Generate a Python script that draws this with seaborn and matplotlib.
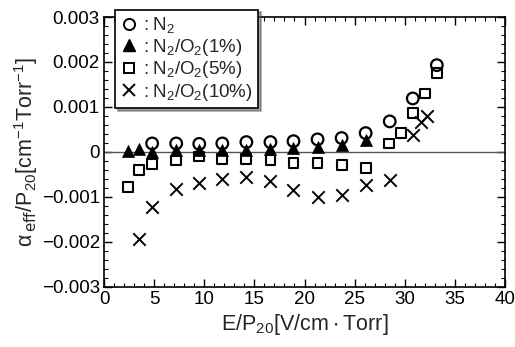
import matplotlib
matplotlib.use("Agg")
import matplotlib.pyplot as plt
import seaborn as sns
import pandas as pd
from matplotlib.ticker import MultipleLocator, FuncFormatter
from matplotlib.lines import Line2D

sns.set_theme(style="ticks")
plt.rcParams['font.family'] = ['Liberation Sans', 'Noto Sans CJK JP', 'DejaVu Sans']
plt.rcParams['mathtext.default'] = 'regular'

# Data
n2_x = [4.8, 7.2, 9.5, 11.8, 14.2, 16.6, 18.9, 21.3, 23.7, 26.1, 28.5, 30.8, 33.2]
n2_y = [0.00019, 0.00019, 0.00018, 0.00019, 0.00022, 0.00022, 0.00024, 0.00028, 0.00031, 0.00042, 0.00068, 0.00119, 0.00193]

o1_x = [2.4, 3.5, 4.8, 7.2, 9.5, 11.8, 14.2, 16.6, 18.9, 21.3, 23.7, 26.1]
o1_y = [0.00003, 0.00006, 0.00001, 0.00004, 0.00004, 0.00004, 0.00005, 0.00006, 0.00009, 0.00012, 0.00015, 0.00027]

o5_x = [2.4, 3.5, 4.8, 7.2, 9.5, 11.8, 14.2, 16.6, 18.9, 21.3, 23.7, 26.1, 28.4, 29.6, 30.8, 32.0, 33.2]
o5_y = [-0.00078, -0.0004, -0.00027, -0.00019, -0.0001, -0.00016, -0.00016, -0.00018, -0.00024, -0.00025, -0.00029, -0.00036, 0.00019, 0.00043, 0.00086, 0.0013, 0.00175]

o10_x = [3.5, 4.8, 7.2, 9.5, 11.8, 14.2, 16.6, 18.9, 21.3, 23.7, 26.1, 28.5, 30.8, 31.6, 32.2]
o10_y = [-0.00194, -0.00122, -0.00083, -0.00068, -0.00059, -0.00056, -0.00064, -0.00085, -0.001, -0.00096, -0.00073, -0.00062, 0.00037, 0.00066, 0.0008]

labels = [r'$:N_2$', r'$:N_2/O_2(1\%)$', r'$:N_2/O_2(5\%)$', r'$:N_2/O_2(10\%)$']

fig, ax = plt.subplots(figsize=(5.15, 3.47), dpi=100)
fig.subplots_adjust(left=0.202, right=0.9806, top=0.951, bottom=0.173)

ax.axhline(0, color='#555555', lw=1.0, zorder=1)

d1 = pd.DataFrame({'x': n2_x, 'y': n2_y})
d2 = pd.DataFrame({'x': o1_x, 'y': o1_y})
d3 = pd.DataFrame({'x': o5_x, 'y': o5_y})
d4 = pd.DataFrame({'x': o10_x, 'y': o10_y})

sns.scatterplot(data=d2, x='x', y='y', marker='^', s=75, color='black', edgecolor='black', linewidth=0.5, ax=ax, zorder=3)
sns.scatterplot(data=d1, x='x', y='y', marker='o', s=70, facecolors='none', edgecolor='black', linewidth=1.6, ax=ax, zorder=4)
sns.scatterplot(data=d3, x='x', y='y', marker='s', s=50, facecolors='none', edgecolor='black', linewidth=1.5, ax=ax, zorder=4)
sns.scatterplot(data=d4, x='x', y='y', marker='x', s=80, color='black', linewidth=1.4, ax=ax, zorder=4)

ax.set_xlim(0, 40)
ax.set_ylim(-0.003, 0.003)
ax.xaxis.set_major_locator(MultipleLocator(5))
ax.xaxis.set_minor_locator(MultipleLocator(1))
ax.yaxis.set_major_locator(MultipleLocator(0.001))
ax.yaxis.set_minor_locator(MultipleLocator(0.0002))

def yfmt(v, pos):
    if abs(v) < 1e-9:
        return '0'
    return ('\u22120' if v < 0 else '0') + '.%03d' % round(abs(v) * 1000)

ax.yaxis.set_major_formatter(FuncFormatter(yfmt))
ax.tick_params(which='both', direction='in', top=True, right=True, colors='black', labelsize=13.5)
ax.tick_params(which='major', length=6, width=1, pad=3)
ax.tick_params(which='minor', length=3, width=0.8)
for sp in ax.spines.values():
    sp.set_color('black')
    sp.set_linewidth(1.2)

ax.set_xlabel(r'$E/P_{20}[V/cm\cdot Torr]$', fontsize=15.5, labelpad=3)
ax.set_ylabel(r'$\alpha_{\,\rm eff}/P_{20}[cm^{-1}Torr^{-1}]$', fontsize=15.5, labelpad=1)

handles = [
    Line2D([], [], ls='none', marker='o', mfc='none', mec='black', mew=1.4, ms=8),
    Line2D([], [], ls='none', marker='^', mfc='black', mec='black', ms=9),
    Line2D([], [], ls='none', marker='s', mfc='none', mec='black', mew=1.4, ms=7),
    Line2D([], [], ls='none', marker='x', color='black', mew=1.4, ms=9),
]
leg = ax.legend(handles, labels, loc='upper left', bbox_to_anchor=(0.028, 1.027),
                frameon=True, fancybox=False, shadow=True, fontsize=13.5,
                handlelength=0.9, handletextpad=0.1, borderpad=0.3, labelspacing=0.08,
                borderaxespad=0)
leg.get_frame().set_edgecolor('black')
leg.get_frame().set_linewidth(1.2)
leg.set_zorder(10)

fig.savefig('out.png', dpi=100)
